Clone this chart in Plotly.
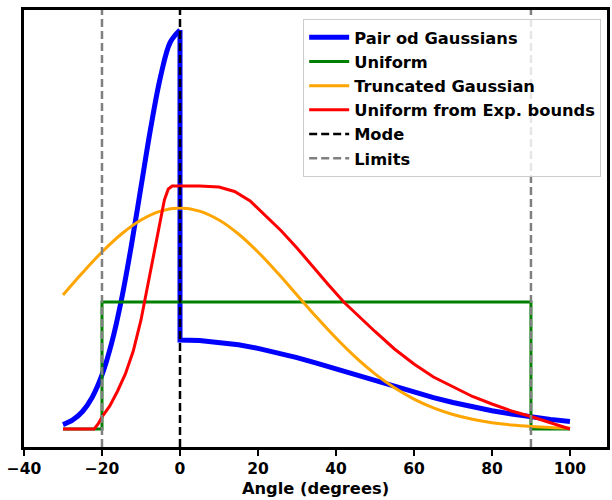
import plotly.graph_objects as go

# ---- data (density values) ----
pair_left_x = [-30, -27.5, -25, -22.5, -20, -17.5, -15, -12.5, -10, -7.5, -5, -2.5, 0]
pair_left_y = [0.000315, 0.000651, 0.001253, 0.002276, 0.003866, 0.006178, 0.009270,
               0.013078, 0.017323, 0.021561, 0.025205, 0.027681, 0.028562]
pair_right_x = [0, 0, 5, 10, 15, 20, 25, 30, 35, 40, 45, 50, 55, 60, 65, 70, 75, 80,
                85, 90, 95, 100]
pair_right_y = [0.028562, 0.006371, 0.006335, 0.006213, 0.006027, 0.005770, 0.005462,
                0.005104, 0.004710, 0.004295, 0.003866, 0.003436, 0.003021, 0.002620,
                0.002248, 0.001897, 0.001589, 0.001310, 0.001074, 0.000859, 0.000687,
                0.000537]

unif_x = [-30, -20, -20, 90, 90, 100]
unif_y = [0.0, 0.0, 0.009091, 0.009091, 0.0, 0.0]

trunc_x = [-30, -25, -20, -15, -10, -5, 0, 5, 10, 15, 20, 25, 30, 35, 40, 45, 50,
           55, 60, 65, 70, 75, 80, 85, 90, 95, 100]
trunc_y = [0.009592, 0.011181, 0.012670, 0.013958, 0.014960, 0.015597, 0.015819,
           0.015597, 0.014960, 0.013958, 0.012670, 0.011181, 0.009592, 0.008010,
           0.006507, 0.005139, 0.003944, 0.002949, 0.002140, 0.001510, 0.001038,
           0.000694, 0.000451, 0.000286, 0.000179, 0.000107, 0.000064]

exp_x = [-30, -22, -21, -20, -18, -16, -14, -12, -10, -8, -6, -4, -3, -2, 0, 5, 10,
         14, 18, 22, 26, 30, 34, 38, 42, 46, 50, 55, 60, 65, 70, 75, 80, 85, 90, 95, 100]
exp_y = [0.0, 0.0, 0.000358, 0.000859, 0.001646, 0.002720, 0.003937, 0.005562,
         0.007802, 0.010594, 0.013529, 0.016392, 0.017179, 0.017394, 0.017394,
         0.017394, 0.017322, 0.017000, 0.016320, 0.015282, 0.014173, 0.012956,
         0.011632, 0.010343, 0.009091, 0.008017, 0.006979, 0.005726, 0.004653,
         0.003722, 0.003006, 0.002326, 0.001789, 0.001288, 0.000895, 0.000429, 0.0]

mode_x = 0
limits = [-20, 90]

x_range = [-40, 109.5]
y_range = [-0.00129, 0.02999]
x_ticks = [-40, -20, 0, 20, 40, 60, 80, 100]

FONT = "DejaVu Sans"
BLUE = "#0000FF"

fig = go.Figure()
fig.add_trace(go.Scatter(x=pair_left_x, y=pair_left_y, mode="lines", name="Pair od Gaussians",
                         legendgroup="pair",
                         line=dict(color=BLUE, width=5, shape="spline")))
fig.add_trace(go.Scatter(x=pair_right_x, y=pair_right_y, mode="lines", name="Pair od Gaussians",
                         legendgroup="pair", showlegend=False,
                         line=dict(color=BLUE, width=5)))
fig.add_trace(go.Scatter(x=unif_x, y=unif_y, mode="lines", name="Uniform",
                         line=dict(color="#008000", width=3)))
fig.add_trace(go.Scatter(x=trunc_x, y=trunc_y, mode="lines", name="Truncated Gaussian",
                         line=dict(color="#FFA500", width=3, shape="spline")))
fig.add_trace(go.Scatter(x=exp_x, y=exp_y, mode="lines", name="Uniform from Exp. bounds",
                         line=dict(color="#FF0000", width=3)))
fig.add_trace(go.Scatter(x=[mode_x, mode_x], y=y_range, mode="lines", name="Mode",
                         line=dict(color="black", width=2.5, dash="8px,4px")))
fig.add_trace(go.Scatter(x=[limits[0], limits[0], None, limits[1], limits[1]],
                         y=[y_range[0], y_range[1], None, y_range[0], y_range[1]],
                         mode="lines", name="Limits",
                         line=dict(color="#808080", width=2.5, dash="8px,4px")))

fig.update_layout(
    width=612, height=500,
    margin=dict(l=24, r=2, t=10, b=53),
    plot_bgcolor="white", paper_bgcolor="white",
    font=dict(family=FONT, size=16, color="black", weight="bold"),
    showlegend=True,
    legend=dict(x=0.99, y=0.979, xanchor="right", yanchor="top",
                bgcolor="rgba(255,255,255,0.8)", bordercolor="#CCCCCC", borderwidth=1,
                font=dict(family=FONT, size=16.3, color="black", weight="bold"),
                itemwidth=40, tracegroupgap=0),
    xaxis=dict(range=x_range, tickvals=x_ticks, ticks="outside", ticklen=6, tickwidth=2,
               tickcolor="black", showgrid=False, zeroline=False, showline=True,
               linecolor="black", linewidth=2.5, mirror=True, ticklabeloverflow="allow",
               tickfont=dict(family=FONT, size=15.5, color="black", weight="bold"),
               title=dict(text="Angle (degrees)", standoff=6,
                          font=dict(family=FONT, size=16.3, color="black", weight="bold"))),
    yaxis=dict(range=y_range, showticklabels=False, ticks="", showgrid=False,
               zeroline=False, showline=True, linecolor="black", linewidth=2.5, mirror=True),
)

fig.write_html("out.html", config={"displayModeBar": False},
               post_script="document.body.style.margin='0';document.body.style.overflow='hidden';")
